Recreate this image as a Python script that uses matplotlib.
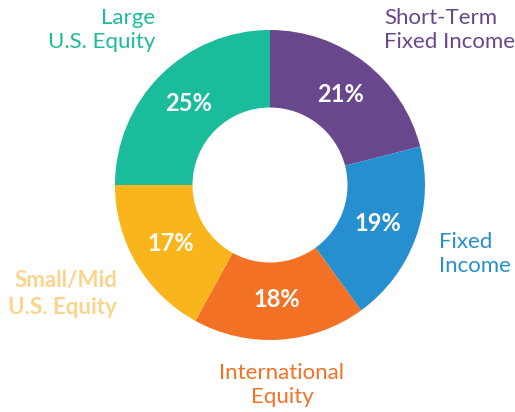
import numpy as np
import matplotlib.pyplot as plt

# allocation data, clockwise from 12 o'clock
labels = ["Short-Term\nFixed Income", "Fixed\nIncome", "International\nEquity",
          "Small/Mid\nU.S. Equity", "Large\nU.S. Equity"]
shares = [21, 19, 18, 17, 25]
colors = ["#69478d", "#268fd0", "#f37124", "#f9b51b", "#1bbc9b"]
label_colors = ["#69478d", "#268fd0", "#f37124", "#fbd48c", "#1bbc9b"]

# label placement (data units, radius = 1)
label_pos = [(0.735, 1.0, "left"), (1.09, -0.445, "left"), (0.077, -1.29, "center"),
             (-0.987, -0.703, "right"), (-0.742, 1.0, "right")]
label_weight = ["normal", "normal", "normal", "bold", "normal"]

plt.rcParams['font.family'] = ['Lato', 'DejaVu Sans']

fig = plt.figure(figsize=(5.15, 4.12), dpi=100)
ax = fig.add_axes([0, 0, 1, 1])

wedges, texts = ax.pie(shares, colors=colors, startangle=90, counterclock=False,
                       radius=1, wedgeprops=dict(width=0.5, linewidth=0))

# percent labels at the ring middle
total = sum(shares)
start = 90
for s in shares:
    ang = np.deg2rad(start - s / total * 360 / 2)
    r = 0.74
    ax.text(r * np.cos(ang), r * np.sin(ang), f"{s}%", color="white",
            fontsize=17, fontweight="bold", ha="center", va="center")
    start -= s / total * 360

for lab, c, w, (x, y, ha) in zip(labels, label_colors, label_weight, label_pos):
    ax.text(x, y, lab, color=c, fontsize=16, fontweight=w, ha=ha, va="center",
            multialignment=ha, linespacing=1.3)

# pixel frame: centre at (270,185), radius 155 px
ax.set_xlim(-270 / 155, 245 / 155)
ax.set_ylim(-(412 - 185) / 155, 185 / 155)
ax.set_aspect("auto")
ax.axis("off")

fig.savefig("out.png", dpi=100)
